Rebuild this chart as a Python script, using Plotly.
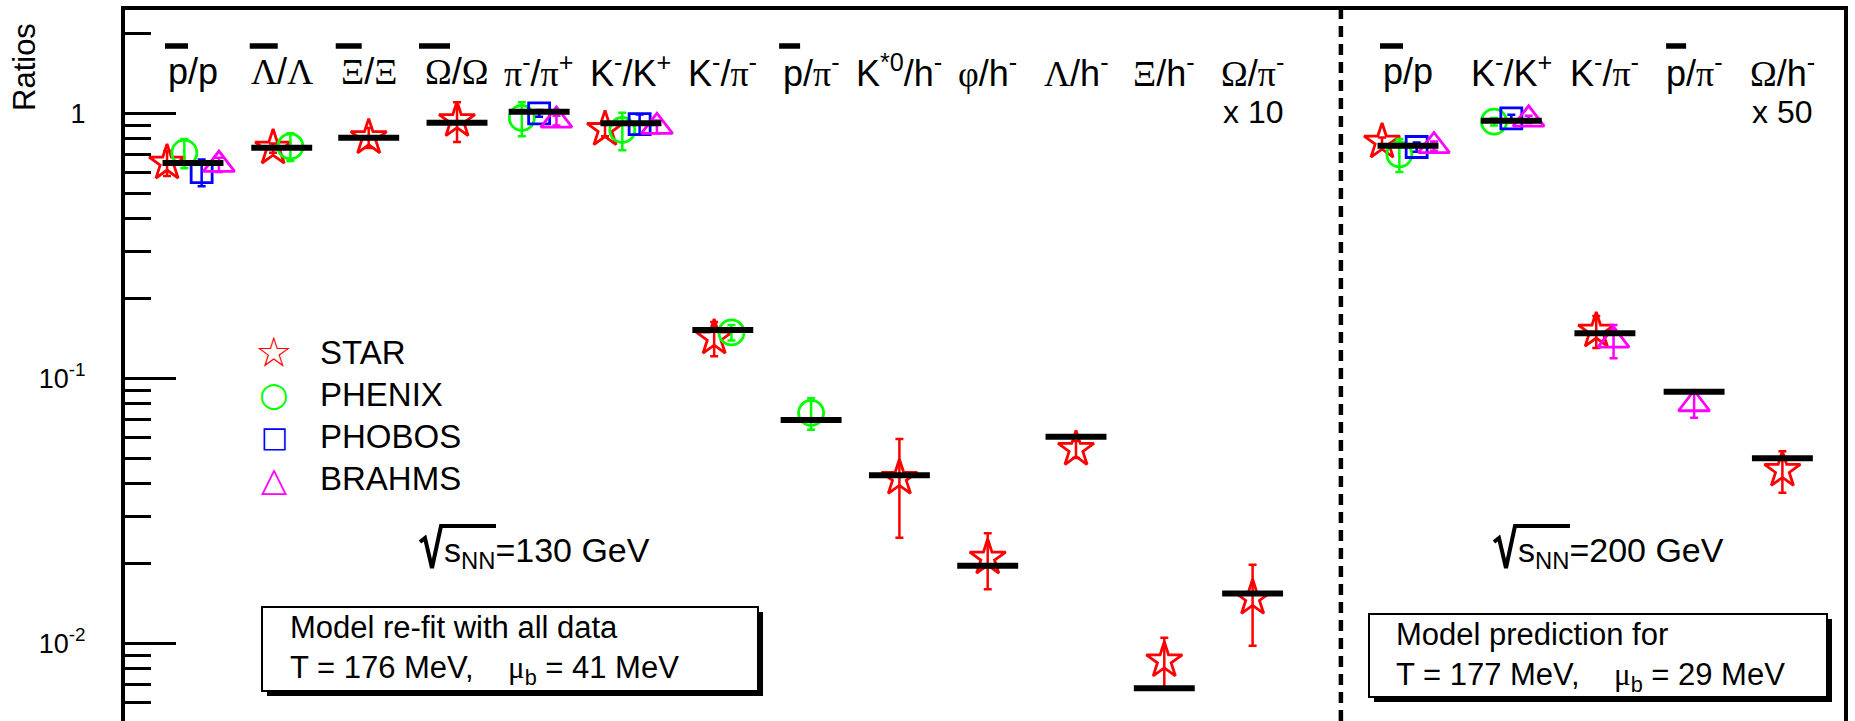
import plotly.graph_objects as go

# ---------------- data ----------------
labels_130 = ["p/p", "Λ/Λ", "Ξ/Ξ", "Ω/Ω", "π⁻/π⁺", "K⁻/K⁺", "K⁻/π⁻", "p/π⁻",
              "K*0/h⁻", "φ/h⁻", "Λ/h⁻", "Ξ/h⁻", "Ω/π⁻"]
labels_200 = ["p/p", "K⁻/K⁺", "K⁻/π⁻", "p/π⁻", "Ω/h⁻"]

model_130 = [0.649, 0.742, 0.809, 0.922, 1.014, 0.917, 0.152, 0.0696, 0.0431, 0.0196, 0.0602, 0.00677, 0.0154]
model_200 = [0.755, 0.938, 0.148, 0.089, 0.0499]

experiments = ["STAR", "PHENIX", "PHOBOS", "BRAHMS"]

star_130 = [0.65, 0.74, 0.81, 0.94, None, 0.87, 0.142, None, 0.042, 0.021, 0.054, 0.0086, 0.0148]
star_130_err = [0.07, 0.03, 0.07, 0.16, None, 0.05, 0.021, None, 0.017, 0.005, 0.004, 0.0019, 0.005]
phenix_130 = [0.71, 0.75, None, None, 0.96, 0.865, 0.149, 0.074, None, None, None, None, None]
phenix_130_err = [0.09, 0.09, None, None, 0.14, 0.14, 0.01, 0.010, None, None, None, None, None]
phobos_130 = [0.60, None, None, None, 1.00, 0.91, None, None, None, None, None, None, None]
phobos_130_err = [0.07, None, None, None, 0.03, 0.08, None, None, None, None, None, None, None]
brahms_130 = [0.64, None, None, None, 0.94, 0.89, None, None, None, None, None, None, None]
brahms_130_err = [0.04, None, None, None, 0.04, 0.05, None, None, None, None, None, None, None]

star_200 = [0.78, None, 0.151, None, 0.045]
star_200_err = [0.03, None, 0.021, None, 0.008]
phenix_200 = [0.70, 0.93, None, None, None]
phenix_200_err = [0.10, 0.03, None, None, None]
phobos_200 = [0.746, 0.957, None, None, None]
phobos_200_err = [0.03, 0.03, None, None, None]
brahms_200 = [0.753, 0.949, 0.139, 0.080, None]
brahms_200_err = [0.03, 0.03, 0.02, 0.009, None]

scale_130 = "x 10"   # applied to Omega/pi- (130 GeV)
scale_200 = "x 50"   # applied to Omega/h- (200 GeV)

# ---------------- layout helpers ----------------
pos_130 = [0, 1.005, 1.99, 2.99, 3.92, 4.96, 6, 7, 8, 9, 10, 11, 12]
pos_200 = [13.76, 14.93, 15.99, 17.0, 18.0]
sep_x = 13.0

W, H = 1855, 721
L, R, T, B = 125, 11, 10, 0
PW, PH = W - L - R, H - T - B


def px(xp):
    return (xp - L) / PW


def py(yp):
    return (H - B - yp) / PH


FONT = "Liberation Sans"
SERIF = "Liberation Serif"
colors = {"STAR": "#ff0000", "PHENIX": "#00ff00", "PHOBOS": "#0000ff", "BRAHMS": "#ff00ff"}
symbols = {"STAR": "star-open", "PHENIX": "circle-open", "PHOBOS": "square-open", "BRAHMS": "triangle-up-open"}
msizes = {"STAR": 27, "PHENIX": 25, "PHOBOS": 21, "BRAHMS": 27}

positions = pos_130 + pos_200
series = {
    "STAR": (star_130 + star_200, star_130_err + star_200_err),
    "PHENIX": (phenix_130 + phenix_200, phenix_130_err + phenix_200_err),
    "PHOBOS": (phobos_130 + phobos_200, phobos_130_err + phobos_200_err),
    "BRAHMS": (brahms_130 + brahms_200, brahms_130_err + brahms_200_err),
}

# offsets so that the experiments present in a category sit side by side
step = 0.196
offsets = {e: [None] * len(positions) for e in experiments}
for i in range(len(positions)):
    present = [e for e in experiments if series[e][0][i] is not None]
    n = len(present)
    for k, e in enumerate(present):
        offsets[e][i] = (k - (n - 1) / 2) * step

fig = go.Figure()

for e in experiments:
    vals, errs = series[e]
    xs, ys, es = [], [], []
    for i, v in enumerate(vals):
        if v is None:
            continue
        xs.append(positions[i] + offsets[e][i])
        ys.append(v)
        es.append(errs[i])
    fig.add_trace(go.Scatter(
        x=xs, y=ys, mode="markers", name=e,
        marker=dict(symbol=symbols[e], size=msizes[e], color=colors[e],
                    line=dict(width=2.8, color=colors[e])),
        error_y=dict(type="data", array=es, visible=True, color=colors[e],
                     thickness=2.5, width=4),
        showlegend=False, cliponaxis=False,
    ))

# model values: short thick horizontal bars
half = 0.345
mx, my = [], []
for p, v in zip(positions, model_130 + model_200):
    mx += [p - half, p + half, None]
    my += [v, v, None]
fig.add_trace(go.Scatter(x=mx, y=my, mode="lines", line=dict(color="black", width=6),
                         showlegend=False, hoverinfo="skip"))

# ---------------- annotations ----------------
ann = []
shapes = []


def fmt(lbl):
    # greek letters in serif (Symbol-like), superscripts
    out = ""
    i = 0
    greek = "ΛΞΩπφ"
    while i < len(lbl):
        c = lbl[i]
        if c in "⁻⁺":
            out += "<sup>" + ("-" if c == "⁻" else "+") + "</sup>"
        elif c == "*":
            out += "<sup>*0</sup>"
            i += 1  # skip the '0'
        elif c in greek:
            out += "<span style='font-family:%s'>%s</span>" % (SERIF, c)
        else:
            out += c
        i += 1
    return out


label_y = py(71)
for p, lbl in zip(positions, labels_130 + labels_200):
    ann.append(dict(x=p, y=label_y, xref="x", yref="paper", text=fmt(lbl),
                    showarrow=False, xanchor="center", yanchor="middle",
                    font=dict(family=FONT, size=36, color="black")))

# bars over antiparticles (pixel offsets relative to label centre)
bar_specs = [(pos_130[0], -28, -5), (pos_130[1], -32, -4), (pos_130[2], -33, -7),
             (pos_130[3], -38, -7), (pos_130[7], -32, -11),
             (pos_200[0], -28, -5), (pos_200[3], -28, -8)]
for p, a, b in bar_specs:
    shapes.append(dict(type="line", xref="x", xsizemode="pixel", xanchor=p, x0=a, x1=b,
                       yref="paper", y0=py(46), y1=py(46),
                       line=dict(color="black", width=5.5)))

for p, t in [(pos_130[12], scale_130), (pos_200[4], scale_200)]:
    ann.append(dict(x=p, y=py(112), xref="x", yref="paper", text=t, showarrow=False,
                    xanchor="center", yanchor="middle",
                    font=dict(family=FONT, size=32, color="black")))

# y title
ann.append(dict(x=px(24), y=py(67), xref="paper", yref="paper", text="Ratios",
                textangle=-90, showarrow=False, xanchor="center", yanchor="middle",
                font=dict(family=FONT, size=31, color="black")))

# legend (symbol glyphs + names)
glyphs = {"STAR": ("☆", 42), "PHENIX": ("○", 34), "PHOBOS": ("□", 29), "BRAHMS": ("△", 34)}
for k, e in enumerate(experiments):
    yy = py(352 + k * 42.3)
    g, gs = glyphs[e]
    ann.append(dict(x=px(274), y=yy, xref="paper", yref="paper", text=g, showarrow=False,
                    xanchor="center", yanchor="middle",
                    font=dict(family="DejaVu Sans", size=gs, color=colors[e])))
    ann.append(dict(x=px(318), y=yy, xref="paper", yref="paper", text=e, showarrow=False,
                    xanchor="left", yanchor="middle",
                    font=dict(family=FONT, size=33, color="black")))

# energies: radical sign (drawn as a path) and text
for x_rad, txt in [(420, "s<sub>NN</sub>=130 GeV"), (1494, "s<sub>NN</sub>=200 GeV")]:
    pts = [(x_rad, 542), (x_rad + 5, 538), (x_rad + 12, 568), (x_rad + 21, 526), (x_rad + 76, 526)]
    path = "M " + " L ".join("%.5f,%.5f" % (px(a), py(b)) for a, b in pts)
    shapes.append(dict(type="path", xref="paper", yref="paper", path=path,
                       line=dict(color="black", width=4)))
    ann.append(dict(x=px(x_rad + 22), y=py(552), xref="paper", yref="paper", text=txt,
                    showarrow=False, xanchor="left", yanchor="middle",
                    font=dict(family=FONT, size=34, color="black")))

# model boxes with shadow
boxes = [((262, 607, 758, 691), (288, 650),
          "Model re-fit with all data<br>T = 176 MeV,    <span style='font-family:%s'>μ</span><sub>b</sub> = 41 MeV" % SERIF),
         ((1369, 614, 1827, 697), (1394, 657),
          "Model prediction for<br>T = 177 MeV,    <span style='font-family:%s'>μ</span><sub>b</sub> = 29 MeV" % SERIF)]
for (x0, y0, x1, y1), (tx, ty), txt in boxes:
    shapes.append(dict(type="rect", xref="paper", yref="paper",
                       x0=px(x0 + 5), x1=px(x1 + 5), y0=py(y0 + 5), y1=py(y1 + 5),
                       fillcolor="black", line=dict(width=0), layer="above"))
    shapes.append(dict(type="rect", xref="paper", yref="paper",
                       x0=px(x0), x1=px(x1), y0=py(y0), y1=py(y1),
                       fillcolor="white", line=dict(color="black", width=2), layer="above"))
    ann.append(dict(x=px(tx), y=py(ty), xref="paper", yref="paper", text=txt,
                    showarrow=False, xanchor="left", yanchor="middle", align="left",
                    font=dict(family=FONT, size=31, color="black")))

# separator between energies
shapes.append(dict(type="line", xref="x", yref="paper", x0=sep_x, x1=sep_x, y0=0, y1=1,
                   line=dict(color="black", width=4.5, dash="11px,7px")))

minor_vals = [m * 10 ** e for e in (-3, -2, -1, 0) for m in range(2, 10)]

fig.update_layout(
    width=W, height=H, margin=dict(l=L, r=R, t=T, b=B),
    paper_bgcolor="white", plot_bgcolor="white", showlegend=False,
    font=dict(family=FONT, color="black"),
    annotations=ann, shapes=shapes,
    xaxis=dict(range=[(L - 193) / 88.3, (W - R - 193) / 88.3], showticklabels=False,
               ticks="", showgrid=False, zeroline=False, showline=True, linewidth=4,
               linecolor="black", mirror=True),
    yaxis=dict(type="log", range=[-(H - B - 113.3) / 265.0, (113.3 - T) / 265.0],
               tickmode="array", tickvals=[0.01, 0.1, 1],
               ticktext=["10<sup>-2</sup>", "10<sup>-1</sup>", "1"],
               ticks="inside", ticklen=51, tickwidth=3, tickcolor="black",
               ticklabelstandoff=30,
               tickfont=dict(family=FONT, size=27, color="black"),
               minor=dict(ticks="inside", ticklen=26, tickwidth=3, tickcolor="black",
                          tickmode="array", tickvals=minor_vals, showgrid=False),
               showgrid=False, zeroline=False, showline=True, linewidth=4,
               linecolor="black", mirror=True),
)

fig.write_html("out.html")
